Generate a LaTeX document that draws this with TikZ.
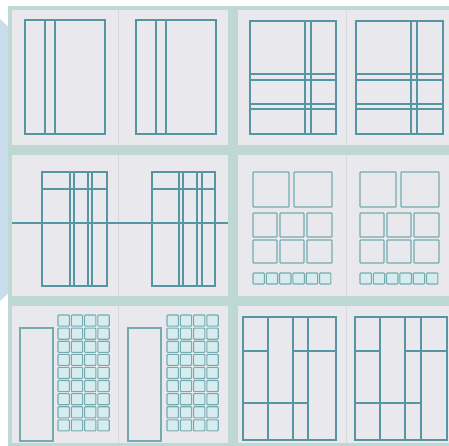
\documentclass[tikz,border=0pt]{standalone}
\definecolor{bgblue}{HTML}{C9DDEC}
\definecolor{framec}{HTML}{BED9D4}
\definecolor{pagec}{HTML}{E9E9ED}
\definecolor{dividerc}{HTML}{D6D9DC}
\definecolor{ink}{HTML}{5596A2}
\definecolor{inklight}{HTML}{75ABB0}
\definecolor{cellfill}{HTML}{D6ECEF}
\begin{document}
\begin{tikzpicture}[x=1pt,y=-1pt,
  ln/.style={draw=ink,line width=1.2pt},
  bigsq/.style={draw=inklight,fill=pagec,line width=1.3pt,rounded corners=0.8pt},
  cell/.style={draw=inklight,fill=cellfill,line width=1.1pt,rounded corners=0.8pt}]
\useasboundingbox (0,0) rectangle (449,446);
\fill[white] (0,0) rectangle (449,446);
\fill[bgblue] (-120,160) circle (185);
\fill[framec] (8,6) rectangle (449,446);
% pages
\foreach \ya/\yb in {10/145,155/296,306/443}{
  \fill[pagec] (12,\ya) rectangle (228,\yb);
  \fill[pagec] (238,\ya) rectangle (449,\yb);
  \draw[dividerc,line width=1pt] (118,\ya) -- (118,\yb);
  \draw[dividerc,line width=1pt] (346,\ya) -- (346,\yb);
}
% ---- Row 1 left spread
\foreach \dx in {0,111}{
  \begin{scope}[xshift=\dx]
    \draw[ln] (25,20) rectangle (105,134);
    \draw[ln] (45,20) -- (45,134);
    \draw[ln] (55,20) -- (55,134);
  \end{scope}
}
% ---- Row 1 right spread
\foreach \x/\w/\va/\vb in {250/86/305/311,356/87/411/417}{
  \draw[ln] (\x,21) rectangle ++(\w,113);
  \draw[ln] (\va,21) -- (\va,134);
  \draw[ln] (\vb,21) -- (\vb,134);
  \foreach \hy in {74,80,104,109}{
    \draw[ln] (\x,\hy) -- ++(\w,0);
  }
}
% ---- Row 2 left spread
\draw[ln] (12,223) -- (228,223);
\foreach \x/\w/\a/\b/\c/\d in {42/65/70/74/88/92,152/63/179/183/197/202}{
  \draw[ln] (\x,172) rectangle ++(\w,114);
  \draw[ln] (\x,189) -- ++(\w,0);
  \foreach \v in {\a,\b,\c,\d}{
    \draw[ln] (\v,172) -- (\v,286);
  }
}
% ---- Row 2 right spread
\foreach \dx in {0,107}{
  \begin{scope}[xshift=\dx]
    \draw[bigsq] (253,172) rectangle (289,207);
    \draw[bigsq] (294,172) rectangle (332,207);
    \foreach \xa/\xb in {253/277,280/304,307/332}{
      \draw[bigsq] (\xa,213) rectangle (\xb,237);
      \draw[bigsq] (\xa,240) rectangle (\xb,263);
    }
    \foreach \i in {0,...,5}{
      \draw[cell] ({253+\i*13.3},273) rectangle ++(11.4,11);
    }
  \end{scope}
}
% ---- Row 3 left spread
\foreach \tx/\gx in {20/58,128/167}{
  \draw[ln,draw=inklight] (\tx,328) rectangle ++(33,113);
  \foreach \i in {0,...,3}{
    \foreach \j in {0,...,8}{
      \draw[cell] ({\gx+\i*13.3},{315+\j*13.1}) rectangle ++(11.3,11.1);
    }
  }
}
% ---- Row 3 right spread
\foreach \x/\r/\a/\b/\c in {243/336/268/293/308,355/447/380/405/421}{
  \draw[ln] (\x,317) rectangle (\r,440);
  \foreach \v in {\a,\b,\c}{
    \draw[ln] (\v,317) -- (\v,440);
  }
  \draw[ln] (\x,351) -- (\a,351);
  \draw[ln] (\b,351) -- (\r,351);
  \draw[ln] (\x,403) -- (\c,403);
}
\end{tikzpicture}
\end{document}
